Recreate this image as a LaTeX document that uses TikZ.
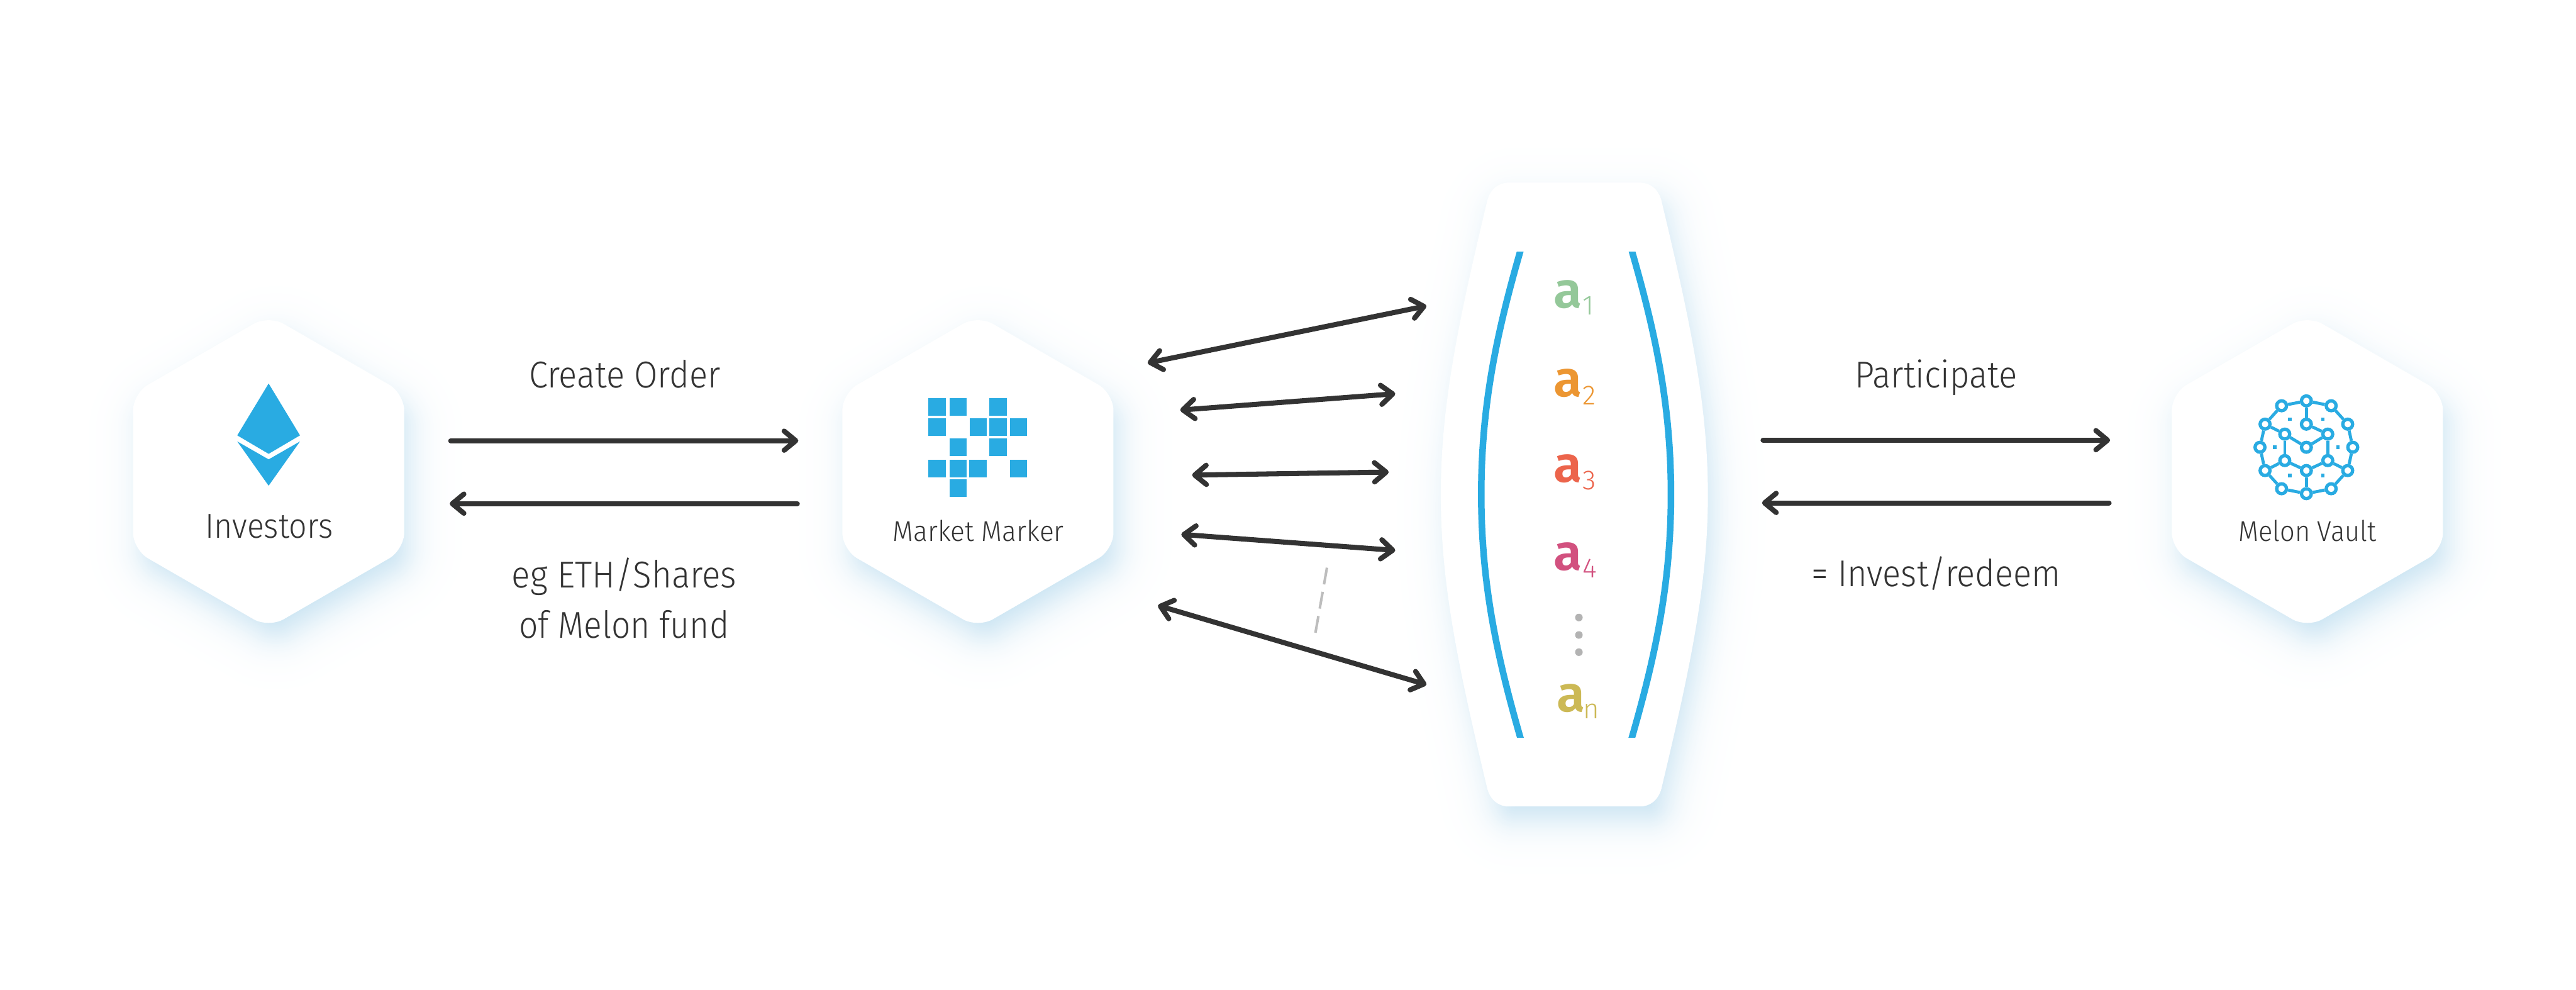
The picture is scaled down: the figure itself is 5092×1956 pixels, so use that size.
\documentclass[tikz,border=0pt]{standalone}
\usepackage{graphicx}
\usepackage{fontspec}
\setmainfont{Fira Sans Light}
\newfontfamily\heavyfont{Fira Sans SemiBold}
\usetikzlibrary{arrows.meta}
\definecolor{ink}{HTML}{333333}
\definecolor{melon}{HTML}{29ABE2}
\definecolor{glow}{HTML}{258FCA}
\definecolor{dashgray}{HTML}{BDBDBD}
\definecolor{dotgray}{HTML}{B3B3B3}
\definecolor{ca1}{HTML}{94C899}
\definecolor{ca2}{HTML}{EC9632}
\definecolor{ca3}{HTML}{EC644B}
\definecolor{ca4}{HTML}{D2517F}
\definecolor{can}{HTML}{CCB955}
\newsavebox\fitbox
\newcommand\fitw[2]{\sbox\fitbox{#2}\pgfmathsetmacro\fitx{#1*0.284528/\wd\fitbox}\scalebox{\fitx}[1]{\usebox\fitbox}}
\newcommand\glowpct{\pgfmathsetmacro\mypct{28/(1+exp((\e+10)/22))}}
\newcommand\hexcalc[1]{%
  \pgfmathsetmacro\hexR{309+1.1547*(#1)}%
  \pgfmathsetmacro\hexW{268+(#1)}%
  \pgfmathsetmacro\hexH{0.5*\hexR}}
\newcommand\hexat[2]{%
  (#1,#2-\hexR) -- (#1+\hexW,#2-\hexH) -- (#1+\hexW,#2+\hexH) -- (#1,#2+\hexR) -- (#1-\hexW,#2+\hexH) -- (#1-\hexW,#2-\hexH) -- cycle}
\newcommand\hexglow[2]{%
  \foreach \e in {110,108,...,-40}{%
    \glowpct
    \pgfmathsetmacro\myt{max(34+0.577*\e,1)}%
    \pgfmathsetmacro\cxs{#1+14}\pgfmathsetmacro\cys{#2+32}%
    \hexcalc{\e}%
    \fill[glow!\mypct!white,rounded corners=\myt*0.01cm] \hexat{\cxs}{\cys};
  }%
  \hexcalc{0}%
  \fill[white,rounded corners=0.34cm] \hexat{#1}{#2};
}
\newcommand\lensat[1]{%
  (2982,361-#1) -- (3242,361-#1)
  .. controls (3262+.4*#1,361-#1) and (3278+.8*#1,374-.8*#1) .. (3284+#1,396-.3*#1)
  .. controls (3341+#1,635) and (3376+#1,800) .. (3376+#1,978)
  .. controls (3376+#1,1156) and (3341+#1,1320) .. (3284+#1,1559+.3*#1)
  .. controls (3278+.8*#1,1581+.8*#1) and (3262+.4*#1,1594+#1) .. (3242,1594+#1)
  -- (2982,1594+#1)
  .. controls (2962-.4*#1,1594+#1) and (2946-.8*#1,1581+.8*#1) .. (2940-#1,1559+.3*#1)
  .. controls (2883-#1,1320) and (2848-#1,1156) .. (2848-#1,978)
  .. controls (2848-#1,800) and (2883-#1,635) .. (2940-#1,396-.3*#1)
  .. controls (2946-.8*#1,374-.8*#1) and (2962-.4*#1,361-#1) .. (2982,361-#1) -- cycle}
\tikzset{
  bigarrow/.style={draw=ink,line width=1mm,line cap=round,
    {Straight Barb[length=0.23cm,width=0.38cm,round]}-{Straight Barb[length=0.23cm,width=0.38cm,round]}},
  onearrow/.style={draw=ink,line width=1mm,line cap=round,
    -{Straight Barb[length=0.23cm,width=0.38cm,round]}},
  bigtext/.style={text=ink,inner sep=0pt,anchor=base,font=\fontsize{21pt}{25pt}\selectfont},
  hextext/.style={text=ink,inner sep=0pt,anchor=base,font=\fontsize{16pt}{19pt}\selectfont},
  letter/.style={inner sep=0pt,anchor=base,font=\heavyfont\fontsize{28.4pt}{30pt}\selectfont},
  sublabel/.style={inner sep=0pt,anchor=base,font=\fontsize{15.5pt}{18pt}\selectfont},
  cell/.style={fill=melon,draw=none},
  netnode/.style={circle,draw=melon,fill=white,line width=0.066cm,minimum size=0.194cm,inner sep=0pt},
  netedge/.style={draw=melon,line width=0.06cm},
  netdot/.style={fill=melon,draw=none,minimum size=0.067cm,inner sep=0pt},
  lensline/.style={draw=melon,line width=1.3mm},
  ellip/.style={circle,fill=dotgray,draw=none,minimum size=0.15cm,inner sep=0pt},
}
\begin{document}
\begin{tikzpicture}[x=0.01cm,y=-0.01cm]
\useasboundingbox (0,0) rectangle (5092,1956);
\fill[white] (0,0) rectangle (5092,1956);

% hexagon cards and lens with soft glow
\hexglow{531}{932}
\hexglow{1933}{932}
\hexglow{4561}{932}
\foreach \e in {110,108,...,-40}{%
  \glowpct
  \fill[glow!\mypct!white,shift={(14,32)}] \lensat{\e};
}
\fill[white] \lensat{0};

% Ethereum logo
\fill[melon] (531,758) -- (593,860.5) -- (531,897) -- (469,860.5) -- cycle;
\fill[melon] (469,872.5) -- (531,908) -- (593,872.5) -- (531,960) -- cycle;
\node[hextext,font=\fontsize{19.5pt}{23pt}\selectfont] (investors) at (532,1063) {\fitw{252}{Investors}};

% Market Maker logo
\foreach \x/\y/\w in {1835/787.5/35,1877/787.5/34,1956/787.5/34,
  1835/827/35,1917/827/34,1956/827/34,1996/827/34,
  1877/867/34,1956/867/34,
  1835/908.5/35,1877/908.5/34,1916/908.5/34,1996/908.5/34,
  1877/947/34}
  \fill[cell] (\x,\y) rectangle ++(\w,34.7);
\node[hextext] (maker) at (1934,1070) {\fitw{338}{Market Marker}};

% Melon vault logo
\foreach \n/\x/\y in {A/4559/792.3,B/4510/802,C/4608/802,D/4477.3/838.3,E/4640.7/838.3,
  F/4467.3/884,G/4650.7/884,H/4477.3/930,I/4640.7/930,J/4510/966,K/4608/966,L/4559/975.7,
  M/4559/838.3,N/4516.3/858,O/4601.3/858,P/4559/884,Q/4516.3/910.3,R/4601.3/910.3,S/4559/930}
  \node[netnode] (\n) at (\x,\y) {};
\foreach \p/\q in {A/B,B/D,D/F,F/H,H/J,J/L,L/K,K/I,I/G,G/E,E/C,C/A,
  A/M,M/O,O/P,P/N,N/D,N/Q,O/R,Q/H,Q/S,R/S,R/I,S/L}
  \draw[netedge] (\p) -- (\q);
\foreach \n/\x/\y in {d1/4526.3/828.3,d2/4591.7/828.3,d3/4496.7/884,d4/4621.3/884,d5/4526.3/939.7,d6/4591.7/939.7}
  \node[netdot] (\n) at (\x,\y) {};
\node[hextext] (vault) at (4561,1070) {\fitw{272}{Melon Vault}};

% lens contents
\begin{scope}
  \clip (2880,497.5) rectangle (3340,1457.5);
  \draw[lensline] (3011,477) -- (3005,497) .. controls (2959,657) and (2928,800) .. (2928,977)
     .. controls (2928,1154) and (2959,1297) .. (3005,1457) -- (3011,1477);
  \draw[lensline] (3220,477) -- (3226,497) .. controls (3272,657) and (3303,800) .. (3303,977)
     .. controls (3303,1154) and (3272,1297) .. (3226,1457) -- (3220,1477);
\end{scope}
\node[letter,text=ca1] (a1) at (3099.5,608) {\fitw{56}{a}};
\node[sublabel,text=ca1] (s1) at (3140,622) {1};
\node[letter,text=ca2] (a2) at (3099.5,784) {\fitw{56}{a}};
\node[sublabel,text=ca2] (s2) at (3141,800) {2};
\node[letter,text=ca3] (a3) at (3099.5,953) {\fitw{56}{a}};
\node[sublabel,text=ca3] (s3) at (3141.5,968) {3};
\node[letter,text=ca4] (a4) at (3099.5,1127) {\fitw{56}{a}};
\node[sublabel,text=ca4] (s4) at (3142,1142) {4};
\node[letter,text=can] (an) at (3105,1406) {\fitw{56}{a}};
\node[sublabel,text=can] (sn) at (3146,1420) {n};
\node[ellip] (e1) at (3121,1220.5) {};
\node[ellip] (e2) at (3121,1255) {};
\node[ellip] (e3) at (3121,1289) {};

% arrow ends
\coordinate (p1) at (891,871);   \coordinate (q1) at (1578,871);
\coordinate (p2) at (1576,995.5);\coordinate (q2) at (889,995.5);
\coordinate (p3) at (3485,870);  \coordinate (q3) at (4171,870);
\coordinate (p4) at (4169,994);  \coordinate (q4) at (3483,994);
\draw[onearrow] (p1) -- (q1);
\draw[onearrow] (p2) -- (q2);
\draw[onearrow] (p3) -- (q3);
\draw[onearrow] (p4) -- (q4);

\coordinate (l1) at (2268.6,717.4);\coordinate (r1) at (2819.6,604.6);
\coordinate (l2) at (2333,810.5);\coordinate (r2) at (2758,778.2);
\coordinate (l3) at (2356.5,939);\coordinate (r3) at (2745,933);
\coordinate (l4) at (2335,1056.2); \coordinate (r4) at (2758,1087.8);
\coordinate (l5) at (2288.9,1196.8); \coordinate (r5) at (2819.6,1353.2);
\foreach \i in {1,...,5} \draw[bigarrow] (l\i) -- (r\i);

\coordinate (dashtop) at (2623,1122);
\coordinate (dashbot) at (2600,1252);
\draw[dashgray,line width=0.05cm,dash pattern=on 0.335cm off 0.15cm] (dashtop) -- (dashbot);

% labels
\node[bigtext] (create) at (1235,767) {\fitw{378}{Create Order}};
\node[bigtext] (eg) at (1234,1161.5) {\fitw{444}{eg ETH/Shares}};
\node[bigtext] (ofm) at (1233.5,1261) {\fitw{415}{of Melon fund}};
\node[bigtext] (part) at (3827.5,767) {\fitw{321}{Participate}};
\node[bigtext] (inv) at (3827,1159) {\fitw{492}{= Invest/redeem}};
\end{tikzpicture}
\end{document}
